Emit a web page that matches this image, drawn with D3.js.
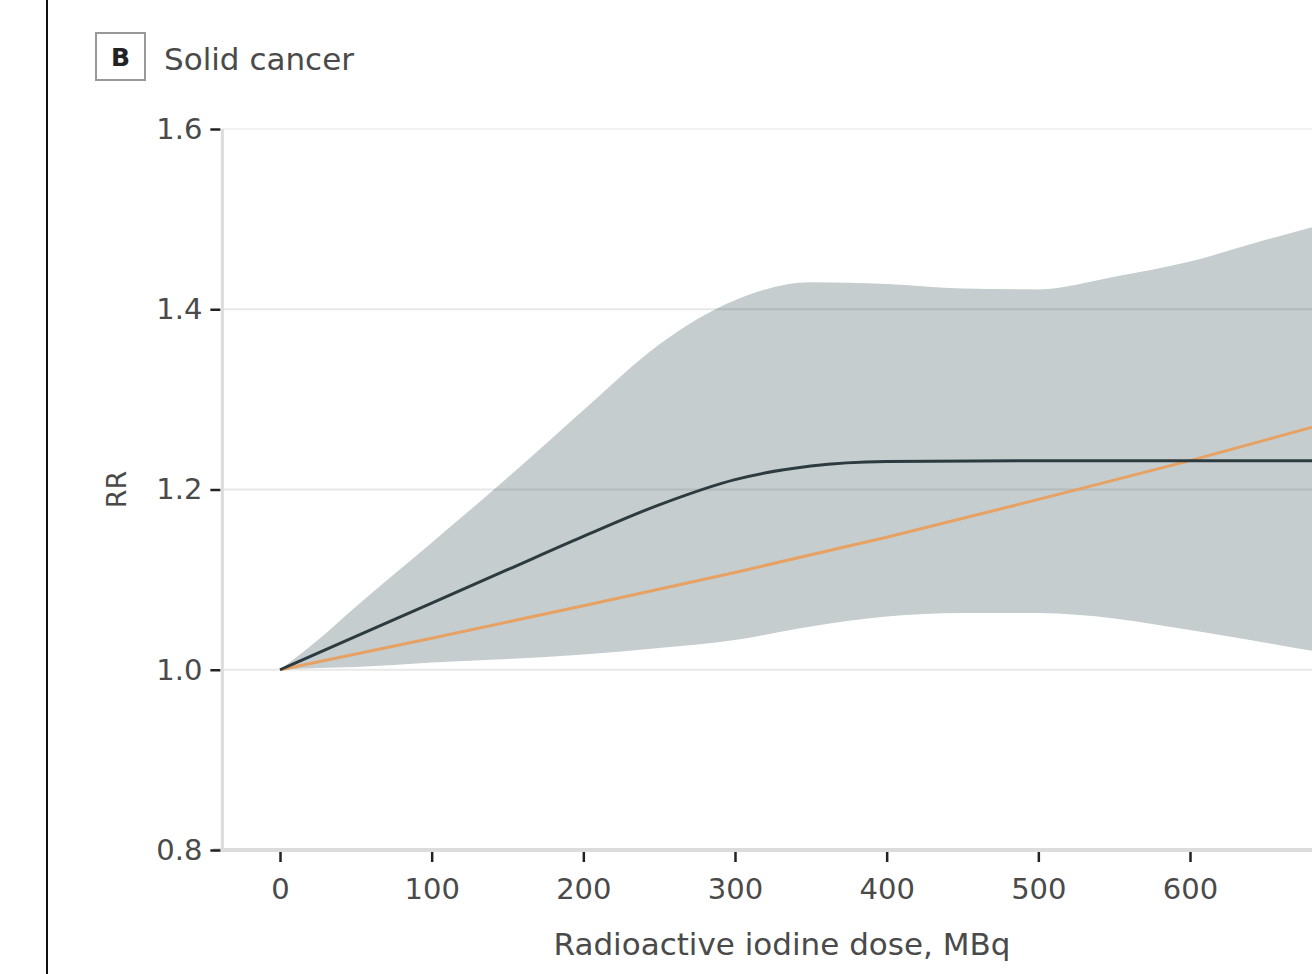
<!DOCTYPE html>
<html>
<head>
<meta charset="utf-8">
<script src="https://cdnjs.cloudflare.com/ajax/libs/d3/7.8.5/d3.min.js"></script>
<style>
  body { margin: 0; background: #fff; }
  svg { display: block; }
  text { font-family: "DejaVu Sans", sans-serif; fill: #4a4a4a; }
</style>
</head>
<body>
<div id="chart"></div>
<script>
// dose values (MBq)
var bandDose  = [0, 25, 50, 100, 150, 200, 250, 300, 350, 400, 450, 500, 550, 600, 650, 700];
var bandUpper = [1.0, 1.033, 1.07, 1.141, 1.213, 1.288, 1.361, 1.41, 1.43, 1.428, 1.423, 1.422, 1.436, 1.453, 1.477, 1.50];
var bandLower = [1.0, 1.002, 1.003, 1.008, 1.012, 1.017, 1.024, 1.033, 1.048, 1.059, 1.063, 1.063, 1.057, 1.044, 1.03, 1.015];

var splineDose = [0, 50, 100, 150, 200, 250, 300, 350, 400, 500, 600, 700];
var splineRR   = [1.0, 1.037, 1.074, 1.111, 1.148, 1.183, 1.211, 1.226, 1.231, 1.232, 1.232, 1.232];

var linearDose = [0, 100, 200, 300, 400, 500, 600, 700];
var linearRR   = [1.0, 1.035, 1.071, 1.108, 1.147, 1.189, 1.232, 1.278];

var xTicks = [0, 100, 200, 300, 400, 500, 600];
var yTicks = [0.8, 1.0, 1.2, 1.4, 1.6];
var gridTicks = [1.0, 1.2, 1.4, 1.6];

var svgWidth = 1312;
var svgHeight = 974;

var svg = d3.select("#chart")
  .append("svg")
  .attr("width", svgWidth)
  .attr("height", svgHeight);

// scales
var x = d3.scaleLinear().domain([0, 600]).range([280, 1190]);
var y = d3.scaleLinear().domain([0.8, 1.6]).range([850, 129]);

// left border line of the figure
svg.append("line")
  .attr("x1", 47).attr("x2", 47)
  .attr("y1", 0).attr("y2", svgHeight)
  .attr("stroke", "#111")
  .attr("stroke-width", 2);

// panel label
svg.append("rect")
  .attr("x", 96).attr("y", 33)
  .attr("width", 49).attr("height", 47)
  .attr("fill", "none")
  .attr("stroke", "#999")
  .attr("stroke-width", 2);

svg.append("text")
  .attr("x", 120.5).attr("y", 57)
  .attr("dy", "0.36em")
  .attr("text-anchor", "middle")
  .style("font-size", "25px")
  .style("font-weight", "bold")
  .style("fill", "#222")
  .text("B");

svg.append("text")
  .attr("x", 164).attr("y", 70)
  .style("font-size", "31px")
  .text("Solid cancer");

// confidence band
var bandData = bandDose.map(function(d, i) {
  return { dose: d, lo: bandLower[i], hi: bandUpper[i] };
});

var area = d3.area()
  .x(d => x(d.dose))
  .y0(d => y(d.lo))
  .y1(d => y(d.hi))
  .curve(d3.curveMonotoneX);

svg.append("path")
  .datum(bandData)
  .attr("d", area)
  .attr("fill", "#c5cdcf");

// gridlines (drawn over the band, semi transparent)
svg.append("g")
  .selectAll("line")
  .data(gridTicks)
  .enter()
  .append("line")
  .attr("x1", x(-38))
  .attr("x2", svgWidth)
  .attr("y1", d => y(d))
  .attr("y2", d => y(d))
  .attr("stroke", d => d === 1.6 ? "rgba(0,0,0,0.05)" : "rgba(0,0,0,0.09)")
  .attr("stroke-width", 2);

// lines
var line = d3.line()
  .x(d => x(d[0]))
  .y(d => y(d[1]))
  .curve(d3.curveMonotoneX);

svg.append("path")
  .datum(linearDose.map((d, i) => [d, linearRR[i]]))
  .attr("d", line)
  .attr("fill", "none")
  .attr("stroke", "#e6a163")
  .attr("stroke-width", 3);

svg.append("path")
  .datum(splineDose.map((d, i) => [d, splineRR[i]]))
  .attr("d", line)
  .attr("fill", "none")
  .attr("stroke", "#2c3b40")
  .attr("stroke-width", 3);

// axis lines
svg.append("line")
  .attr("x1", x(-38)).attr("x2", x(-38))
  .attr("y1", y(1.6)).attr("y2", y(0.8))
  .attr("stroke", "#dcdcdc")
  .attr("stroke-width", 3);

svg.append("line")
  .attr("x1", x(-44)).attr("x2", svgWidth)
  .attr("y1", y(0.8)).attr("y2", y(0.8))
  .attr("stroke", "#dcdcdc")
  .attr("stroke-width", 4);

// x axis
var bottomAxis = d3.axisBottom(x)
  .tickValues(xTicks)
  .tickSize(10)
  .tickPadding(16)
  .tickFormat(d3.format("d"));

var xAxis = svg.append("g")
  .attr("transform", `translate(0, ${y(0.8) + 2})`)
  .call(bottomAxis);

// y axis
var leftAxis = d3.axisLeft(y)
  .tickValues(yTicks)
  .tickSize(10)
  .tickPadding(8)
  .tickFormat(d3.format(".1f"));

var yAxis = svg.append("g")
  .attr("transform", `translate(${x(-38) - 2}, 0)`)
  .call(leftAxis);

[xAxis, yAxis].forEach(function(g) {
  g.select(".domain").remove();
  g.selectAll(".tick line")
    .attr("stroke", "#222")
    .attr("stroke-width", 2.5);
  g.selectAll(".tick text")
    .style("font-size", "29px")
    .style("font-family", "'DejaVu Sans', sans-serif")
    .style("fill", "#4a4a4a");
});

// axis titles
svg.append("text")
  .attr("x", x(300) + 47)
  .attr("y", 955)
  .attr("text-anchor", "middle")
  .style("font-size", "31px")
  .text("Radioactive iodine dose, MBq");

svg.append("text")
  .attr("transform", `translate(126, ${y(1.2)}) rotate(-90)`)
  .attr("text-anchor", "middle")
  .style("font-size", "27px")
  .text("RR");
</script>
</body>
</html>
